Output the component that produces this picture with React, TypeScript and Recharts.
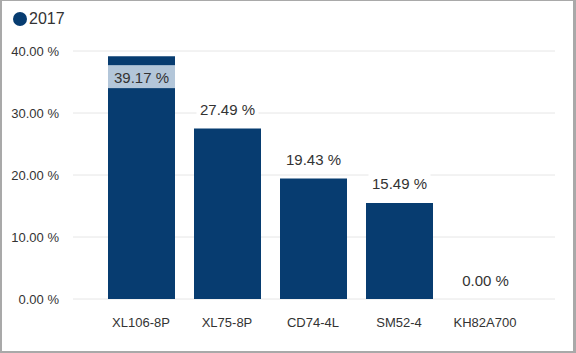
import { BarChart, Bar, XAxis, YAxis, CartesianGrid, LabelList, Rectangle } from 'recharts'

const models = ['XL106-8P', 'XL75-8P', 'CD74-4L', 'SM52-4', 'KH82A700']
const share2017 = [39.17, 27.49, 19.43, 15.49, 0]
const yTicks = [0, 10, 20, 30, 40]

const NAVY = '#073c70'
const TEXT = '#333333'
const FONT = 'Arial, "Liberation Sans", sans-serif'

const data = models.map((name, i) => ({ name, value: share2017[i] }))

const fmt = (v: number) => `${v.toFixed(2)} %`

// zero values still get a 1px stub (so the label shows up) but we don't paint it
function BarShape(props: any) {
  if (!props.value) return null
  return <Rectangle {...props} />
}

// Value label: above the bar on a white box, or inside it when there's no room on top
function ValueLabel(props: any) {
  const { x, y, width, height, value } = props
  const text = fmt(Number(value))
  const cx = x + width / 2
  const top = Number(value) === 0 ? y + height : y
  if (top - 30 < 51) {
    const by = top + 9
    return (
      <g>
        <rect x={x} y={by} width={width} height={23} fill="#b3c6d9" />
        <text x={cx} y={by + 12} textAnchor="middle" dominantBaseline="central" fontSize={15} fill={TEXT} fontFamily={FONT}>
          {text}
        </text>
      </g>
    )
  }
  const bw = text.length * 8 + 6
  return (
    <g>
      <rect x={cx - bw / 2} y={top - 30} width={bw} height={21} fill="#ffffff" />
      <text x={cx} y={top - 19} textAnchor="middle" dominantBaseline="central" fontSize={15} fill={TEXT} fontFamily={FONT}>
        {text}
      </text>
    </g>
  )
}

export default function App() {
  return (
    <div style={{ position: 'relative', width: 576, height: 353, background: '#fff', fontFamily: FONT }}>
      <style>{'body{margin:0}'}</style>
      <BarChart
        width={576}
        height={353}
        data={data}
        margin={{ top: 51, right: 21, bottom: 24, left: 0 }}
      >
        <CartesianGrid vertical={false} stroke="#e6e6e6" />
        <XAxis
          dataKey="name"
          axisLine={false}
          tickLine={false}
          tickSize={0}
          tickMargin={19}
          padding={{ left: 25, right: 27 }}
          interval={0}
          tick={{ fontSize: 13, fill: TEXT, fontFamily: FONT }}
        />
        <YAxis
          width={73}
          domain={[0, 40]}
          ticks={yTicks}
          axisLine={false}
          tickLine={false}
          tickSize={0}
          tickMargin={14}
          tickFormatter={(v: number) => fmt(v)}
          tick={{ fontSize: 13, fill: TEXT, fontFamily: FONT }}
        />
        <Bar
          dataKey="value"
          fill={NAVY}
          barSize={67}
          minPointSize={1}
          shape={BarShape}
          isAnimationActive={false}
        >
          <LabelList dataKey="value" content={ValueLabel} />
        </Bar>
      </BarChart>

      {/* legend */}
      <div style={{ position: 'absolute', left: 13, top: 9, display: 'flex', alignItems: 'center', gap: 2 }}>
        <span style={{ width: 14, height: 14, borderRadius: '50%', background: NAVY, display: 'inline-block' }} />
        <span style={{ fontSize: 16, color: TEXT, lineHeight: '20px' }}>2017</span>
      </div>

      {/* outer frame */}
      <div
        style={{
          position: 'absolute',
          inset: 0,
          borderStyle: 'solid',
          borderColor: '#a9a9a9',
          borderWidth: '1px 3px 2px 2px',
          pointerEvents: 'none',
        }}
      />
    </div>
  )
}
